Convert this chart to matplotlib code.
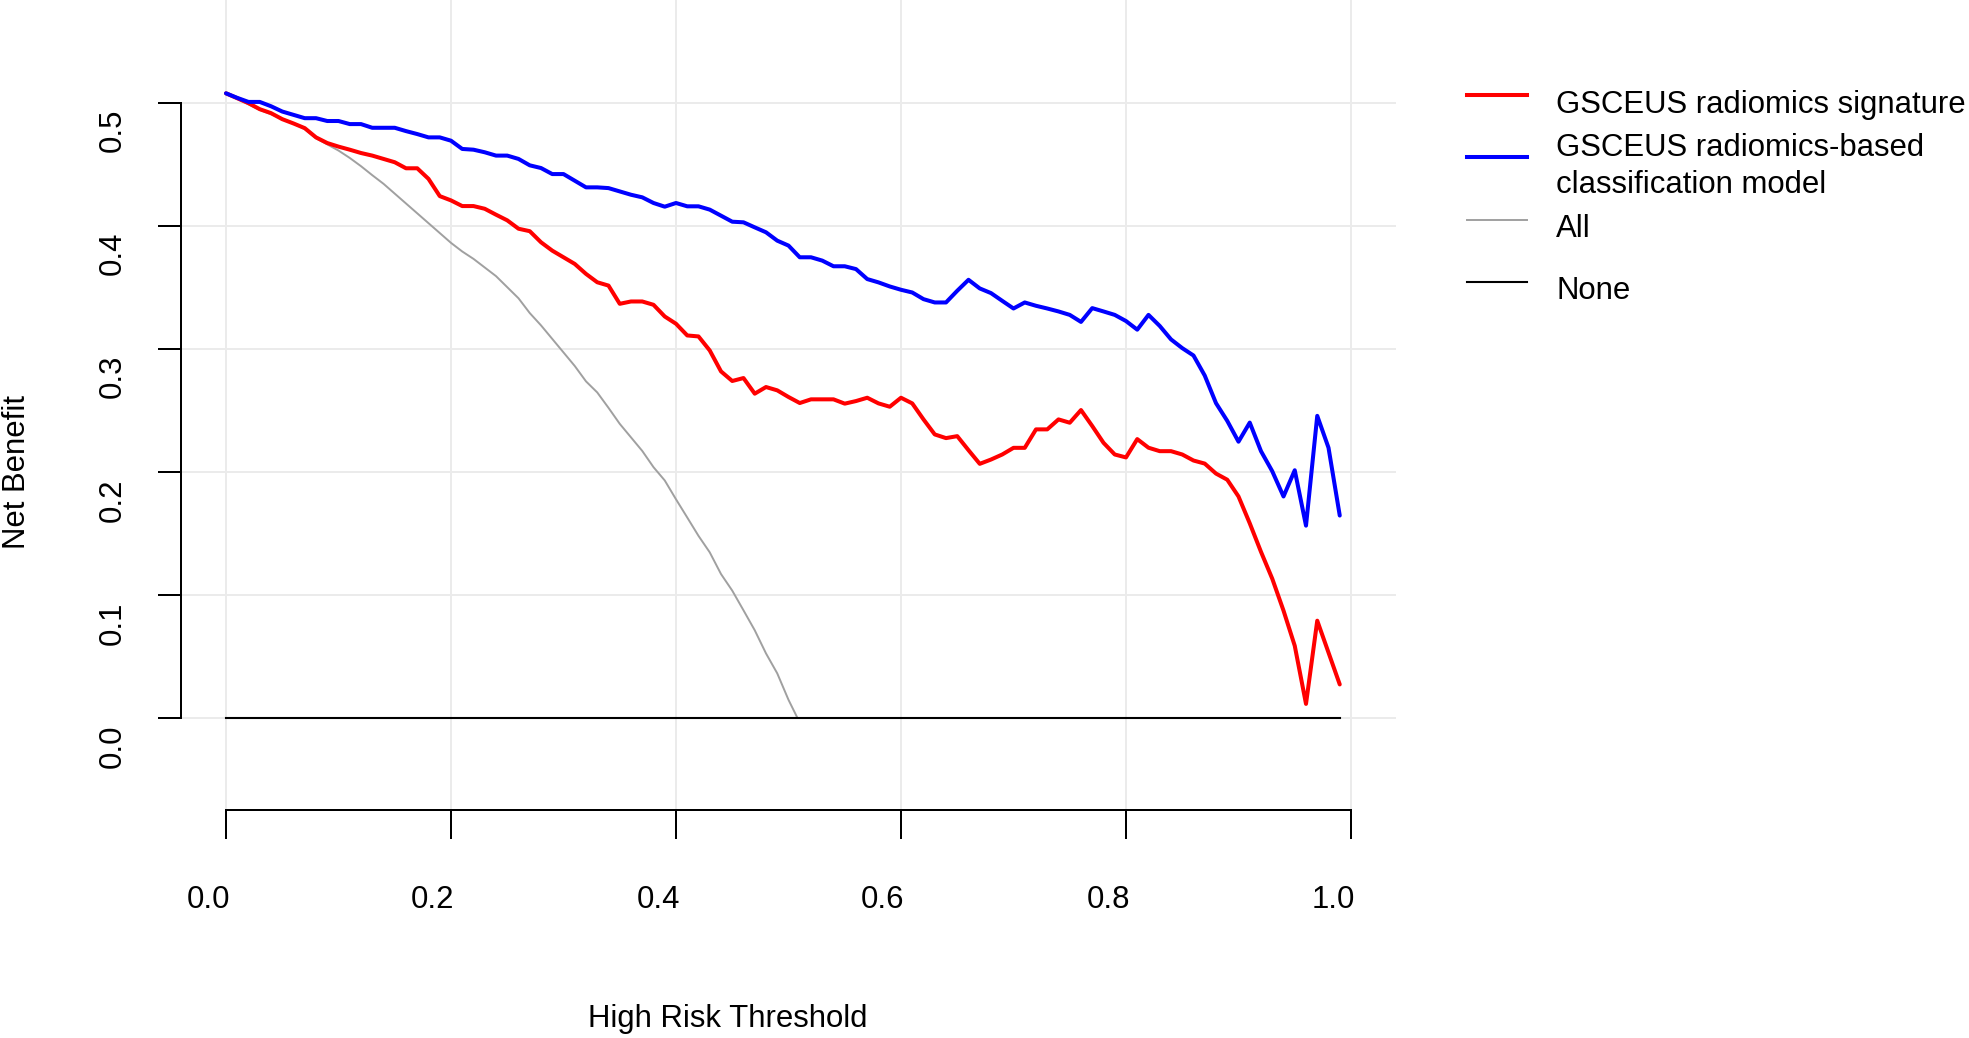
import matplotlib
matplotlib.use('Agg')
import matplotlib.pyplot as plt
import matplotlib.transforms as mtransforms
from matplotlib.lines import Line2D
import numpy as np

plt.rcParams['font.family'] = ['Liberation Sans', 'DejaVu Sans']

# decision curve values (threshold step 0.01)
thresholds = np.round(np.linspace(0, 0.99, 100), 2)

nb_signature = [
    0.5075, 0.5035, 0.4995, 0.4946, 0.4914, 0.4865, 0.4830, 0.4792, 0.4717, 0.4671,
    0.4642, 0.4617, 0.4590, 0.4569, 0.4542, 0.4515, 0.4466, 0.4466, 0.4380, 0.4240,
    0.4205, 0.4159, 0.4159, 0.4137, 0.4089, 0.4043, 0.3975, 0.3955, 0.3865, 0.3797,
    0.3743, 0.3689, 0.3608, 0.3540, 0.3513, 0.3365, 0.3384, 0.3384, 0.3357, 0.3262,
    0.3203, 0.3108, 0.3100, 0.2986, 0.2816, 0.2738, 0.2762, 0.2635, 0.2689, 0.2662,
    0.2608, 0.2559, 0.2589, 0.2589, 0.2589, 0.2554, 0.2575, 0.2602, 0.2556, 0.2529,
    0.2602, 0.2556, 0.2426, 0.2304, 0.2274, 0.2290, 0.2176, 0.2065, 0.2100, 0.2141,
    0.2195, 0.2195, 0.2345, 0.2345, 0.2426, 0.2399, 0.2502, 0.2372, 0.2236, 0.2141,
    0.2117, 0.2266, 0.2196, 0.2168, 0.2168, 0.2141, 0.2092, 0.2067, 0.1986, 0.1936,
    0.1800, 0.1582, 0.1350, 0.1132, 0.0873, 0.0587, 0.0115, 0.0791, 0.0532, 0.0273,
]

nb_model = [
    0.5075, 0.5038, 0.5005, 0.5005, 0.4970, 0.4927, 0.4900, 0.4873, 0.4873, 0.4850,
    0.4850, 0.4825, 0.4825, 0.4795, 0.4795, 0.4795, 0.4768, 0.4744, 0.4717, 0.4717,
    0.4690, 0.4623, 0.4617, 0.4596, 0.4569, 0.4569, 0.4542, 0.4490, 0.4468, 0.4419,
    0.4419, 0.4365, 0.4311, 0.4311, 0.4305, 0.4278, 0.4251, 0.4230, 0.4184, 0.4154,
    0.4184, 0.4157, 0.4157, 0.4130, 0.4081, 0.4032, 0.4027, 0.3986, 0.3946, 0.3878,
    0.3838, 0.3743, 0.3743, 0.3716, 0.3670, 0.3670, 0.3647, 0.3566, 0.3539, 0.3506,
    0.3479, 0.3457, 0.3403, 0.3376, 0.3376, 0.3471, 0.3560, 0.3490, 0.3452, 0.3389,
    0.3327, 0.3376, 0.3349, 0.3327, 0.3303, 0.3275, 0.3218, 0.3330, 0.3303, 0.3275,
    0.3225, 0.3155, 0.3275, 0.3185, 0.3076, 0.3005, 0.2945, 0.2782, 0.2558, 0.2414,
    0.2245, 0.2400, 0.2168, 0.2005, 0.1800, 0.2013, 0.1563, 0.2455, 0.2196, 0.1645,
]

# treat-all curve, stops where it reaches zero
all_thresholds = np.append(thresholds[:51], 0.508)
nb_all = [
    0.5075, 0.5030, 0.4985, 0.4940, 0.4905, 0.4870, 0.4830, 0.4784, 0.4710, 0.4660,
    0.4610, 0.4550, 0.4483, 0.4410, 0.4340, 0.4260, 0.4180, 0.4100, 0.4020, 0.3940,
    0.3860, 0.3790, 0.3730, 0.3660, 0.3590, 0.3500, 0.3410, 0.3290, 0.3190, 0.3080,
    0.2970, 0.2860, 0.2735, 0.2645, 0.2520, 0.2390, 0.2280, 0.2170, 0.2038, 0.1930,
    0.1777, 0.1629, 0.1480, 0.1346, 0.1170, 0.1035, 0.0875, 0.0713, 0.0525, 0.0363,
    0.0148, 0.0000,
]

nb_none = np.zeros(len(thresholds))

x_ticks = [0.0, 0.2, 0.4, 0.6, 0.8, 1.0]
y_ticks = [0.0, 0.1, 0.2, 0.3, 0.4, 0.5]

legend_labels = ['GSCEUS radiomics signature',
                 'GSCEUS radiomics-based\nclassification model',
                 'All', 'None']
legend_colors = ['#FF0000', '#0000FF', '#A0A0A0', '#000000']
legend_widths = [2.9, 2.9, 1.4, 1.5]

W, H = 1969, 1038
fs = 22.4

fig = plt.figure(figsize=(W / 100, H / 100), dpi=100)
ax = fig.add_axes([181 / W, 1 - 810 / H, 1215 / W, 810 / H])

ax.plot(all_thresholds, nb_all, color=legend_colors[2], lw=legend_widths[2],
        solid_joinstyle='round', solid_capstyle='round')
ax.plot(thresholds, nb_none, color=legend_colors[3], lw=legend_widths[3])
ax.plot(thresholds, nb_signature, color=legend_colors[0], lw=legend_widths[0],
        solid_joinstyle='round', solid_capstyle='round')
ax.plot(thresholds, nb_model, color=legend_colors[1], lw=legend_widths[1],
        solid_joinstyle='round', solid_capstyle='round')

ax.set_xlim(-0.04, 1.04)
ax.set_ylim(-0.0747, 0.5833)
ax.set_xticks(x_ticks)
ax.set_yticks(y_ticks)
ax.set_axisbelow(True)
ax.grid(True, color='#EBEBEB', lw=1.4)

for s in ['top', 'right']:
    ax.spines[s].set_visible(False)
ax.spines['left'].set_bounds(0, 0.5)
ax.spines['bottom'].set_bounds(0, 1)
for s in ['left', 'bottom']:
    ax.spines[s].set_linewidth(1.44)
ax.tick_params(axis='y', direction='out', length=16.6, width=1.44, labelleft=False)
ax.tick_params(axis='x', direction='out', length=20.9, width=1.44, labelbottom=False)

# tick labels, placed the way the original R figure has them
xt = mtransforms.offset_copy(
    mtransforms.blended_transform_factory(ax.transData, fig.transFigure),
    fig=fig, x=-18, y=0, units='dots')
for t in x_ticks:
    ax.text(t, 1 - 908 / H, f'{t:.1f}', transform=xt, ha='center',
            va='baseline', fontsize=fs)

yt = mtransforms.offset_copy(
    mtransforms.blended_transform_factory(fig.transFigure, ax.transData),
    fig=fig, x=0, y=-28, units='dots')
for t in y_ticks:
    ax.text(121 / W, t, f'{t:.1f}', transform=yt, rotation=90,
            rotation_mode='anchor', ha='center', va='baseline', fontsize=fs)

fig.text(727.5 / W, 1 - 1027 / H, 'High Risk Threshold', ha='center',
         va='baseline', fontsize=fs)
fig.text(25 / W, 1 - 471.5 / H, 'Net Benefit', rotation=90,
         rotation_mode='anchor', ha='center', va='baseline', fontsize=fs)

# legend drawn by hand to keep the R layout
line_gap = 37.3
for k, (lab, col, lw) in enumerate(zip(legend_labels, legend_colors, legend_widths)):
    row_y = 95 + 62.3 * k
    fig.add_artist(Line2D([1467 / W, 1527 / W], [1 - row_y / H] * 2,
                          transform=fig.transFigure, color=col, lw=lw))
    parts = lab.split('\n')
    first = row_y + 17.5 - (len(parts) - 1) * line_gap / 2
    for j, part in enumerate(parts):
        fig.text(1556 / W, 1 - (first + j * line_gap) / H, part,
                 ha='left', va='baseline', fontsize=fs)

fig.savefig('out.png', dpi=100)
